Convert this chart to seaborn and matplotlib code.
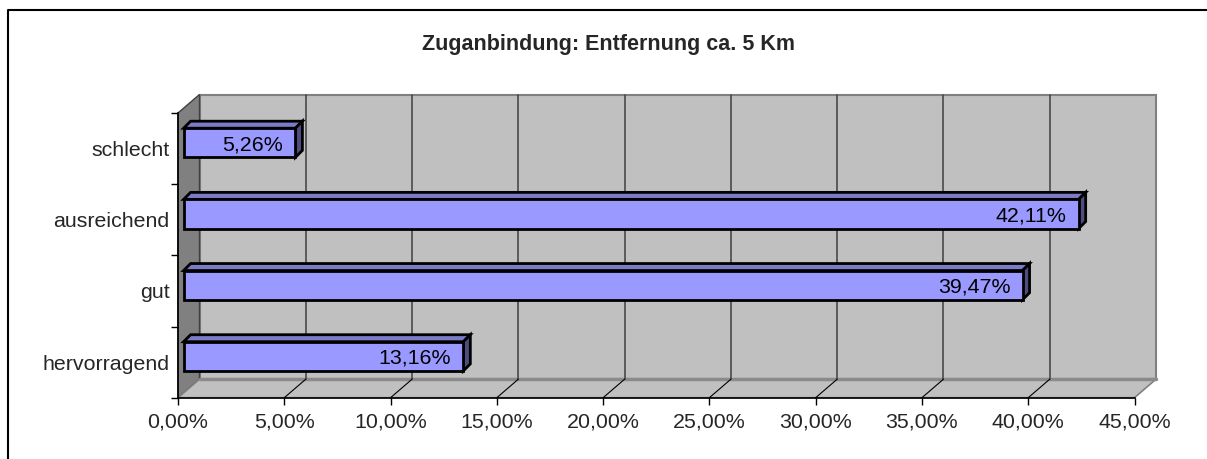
import matplotlib
matplotlib.use("Agg")
import matplotlib.pyplot as plt
import seaborn as sns
import pandas as pd
from matplotlib.transforms import ScaledTranslation
from matplotlib.patches import Polygon, Rectangle
from matplotlib.lines import Line2D

# ---- data ----
categories = ["schlecht", "ausreichend", "gut", "hervorragend"]
values = [5.26, 42.11, 39.47, 13.16]
value_labels = ["5,26%", "42,11%", "39,47%", "13,16%"]
x_ticks = [0, 5, 10, 15, 20, 25, 30, 35, 40, 45]
x_tick_labels = ["0,00%", "5,00%", "10,00%", "15,00%", "20,00%",
                 "25,00%", "30,00%", "35,00%", "40,00%", "45,00%"]
title = "Zuganbindung: Entfernung ca. 5 Km"

sns.set_style("ticks")
plt.rcParams['font.family'] = ['Liberation Sans', 'DejaVu Sans']

W, H = 1207, 459
DPI = 100
fig = plt.figure(figsize=(W / DPI, H / DPI), dpi=DPI)
fig.patch.set_facecolor("white")
L, R, T, B = 178, 1134.5, 113, 397.7
ax = fig.add_axes([L / W, 1 - B / H, (R - L) / W, (B - T) / H])
ax.patch.set_visible(False)

df = pd.DataFrame({"Kategorie": categories, "Anteil": values})
sns.barplot(data=df, x="Anteil", y="Kategorie", orient="h", color="#9999FF",
            saturation=1, width=0.41, edgecolor="black", linewidth=2.0,
            ax=ax, zorder=4)
bars = list(ax.patches)

XMAX = x_ticks[-1]
ncat = len(categories)
ux = (R - L) / XMAX
uy = (B - T) / ncat


def shift(dx, dy):
    return ax.transData + ScaledTranslation(dx / DPI, dy / DPI, fig.dpi_scale_trans)


# wall depth (px)
WDX, WDY = 21.5, 18.5
dxd, dyd = WDX / ux, WDY / uy
ylo, yhi = -0.5, ncat - 0.5

# back wall
bw = Rectangle((0, ylo), XMAX, ncat, facecolor="#C0C0C0", edgecolor="#808080",
               lw=1.5, zorder=0, clip_on=False)
bw.set_transform(shift(WDX, WDY))
ax.add_patch(bw)
# left wall
lw_ = Polygon([(0, yhi), (0, ylo), (dxd, ylo - dyd), (dxd, yhi - dyd)],
              closed=True, facecolor="#808080", edgecolor="#404040", lw=1,
              zorder=0.5, clip_on=False)
ax.add_patch(lw_)
# floor
fl = Polygon([(0, yhi), (XMAX, yhi), (XMAX + dxd, yhi - dyd), (dxd, yhi - dyd)],
             closed=True, facecolor="#C0C0C0", edgecolor="#808080", lw=1.2,
             zorder=0.5, clip_on=False)
ax.add_patch(fl)
ax.plot([0, XMAX], [yhi, yhi], transform=shift(WDX, WDY), color="#8A8A8A",
        lw=2.5, zorder=0.6, clip_on=False)

# gridlines
for xv in x_ticks[1:-1]:
    ax.plot([xv, xv], [ylo, yhi], transform=shift(WDX, WDY), color="#404040",
            lw=1.1, zorder=1, clip_on=False)
    ax.plot([xv, xv + dxd], [yhi, yhi - dyd], color="black", lw=0.8,
            zorder=1, clip_on=False)

# 3D bars
BX, BY = 5.6, 5.8
BDX, BDY = 7.0, 7.0
bdx, bdy = BDX / ux, BDY / uy
for p, lab in zip(bars, value_labels):
    x0, y0, w, h = p.get_x(), p.get_y(), p.get_width(), p.get_height()
    p.set_transform(shift(BX, BY))
    p.set_clip_on(False)
    p.set_joinstyle("miter")
    top = Polygon([(x0, y0), (x0 + w, y0), (x0 + w + bdx, y0 - bdy), (x0 + bdx, y0 - bdy)],
                  closed=True, facecolor="#7B7BC8", edgecolor="black", lw=2.0,
                  zorder=3.5, clip_on=False, joinstyle="miter")
    top.set_transform(shift(BX, BY))
    ax.add_patch(top)
    side = Polygon([(x0 + w, y0), (x0 + w, y0 + h), (x0 + w + bdx, y0 + h - bdy),
                    (x0 + w + bdx, y0 - bdy)],
                   closed=True, facecolor="#4D4D80", edgecolor="black", lw=2.0,
                   zorder=3.5, clip_on=False, joinstyle="miter")
    side.set_transform(shift(BX, BY))
    ax.add_patch(side)
    ax.text(x0 + w, y0 + h / 2, lab, transform=shift(BX - 12, BY), ha="right",
            va="center_baseline", fontsize=15.4, color="black", zorder=6)

ax.set_xlim(0, XMAX)
ax.set_ylim(yhi, ylo)
ax.set_xticks(x_ticks)
ax.set_xticklabels(x_tick_labels, fontsize=15.4)
ax.set_yticks(range(ncat))
ax.set_yticklabels(categories, fontsize=15.4)
ax.set_yticks([ylo + i for i in range(ncat + 1)], minor=True)
ax.tick_params(axis="x", which="major", direction="out", length=5, width=1,
               color="black", pad=6, bottom=True)
ax.tick_params(axis="y", which="major", length=0, pad=6)
ax.tick_params(axis="y", which="minor", direction="out", length=5, width=1,
               color="black", left=True)
ax.set_xlabel("")
ax.set_ylabel("")
for s in ["top", "right"]:
    ax.spines[s].set_visible(False)
for s in ["left", "bottom"]:
    ax.spines[s].set_color("black")
    ax.spines[s].set_linewidth(1.2)
    ax.spines[s].set_zorder(2)

fig.text(609 / W, 1 - 50 / H, title, ha="center", va="baseline",
         fontsize=15.5, fontweight="bold")

fig.add_artist(Line2D([8 / W, 8 / W, 1.02], [-0.02, 1 - 9.5 / H, 1 - 9.5 / H],
                      transform=fig.transFigure, color="black", lw=1.5))

fig.savefig("out.png", dpi=DPI)
